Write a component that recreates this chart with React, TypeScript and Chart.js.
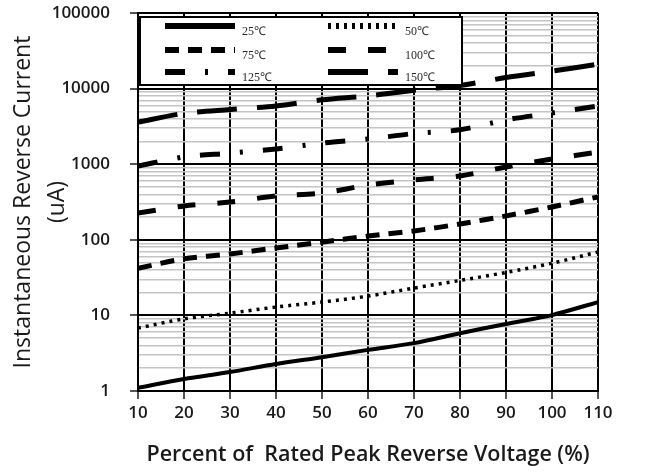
import { useEffect, useRef } from 'react';
import { Chart, registerables } from 'chart.js';
Chart.register(...registerables);

const xValues = [10, 20, 30, 40, 50, 60, 70, 80, 90, 100, 110];
const t25 = [1.1, 1.44, 1.78, 2.28, 2.8, 3.5, 4.3, 5.8, 7.7, 10.1, 15];
const t50 = [6.8, 9, 10.7, 12.9, 15, 18, 23, 29, 37, 49, 69];
const t75 = [42, 56, 65, 78, 93, 112, 131, 162, 207, 272, 370];
const t100 = [226, 280, 316, 380, 415, 530, 620, 700, 920, 1170, 1450];
const t125 = [945, 1250, 1400, 1590, 1900, 2150, 2550, 2850, 3850, 4750, 5900];
const t150 = [3600, 4700, 5300, 5900, 7100, 8000, 9500, 11000, 14000, 17000, 21000];
const seriesLabels = ['25℃', '50℃', '75℃', '100℃', '125℃', '150℃'];
const yTickLabels = [1, 10, 100, 1000, 10000, 100000];

const isMajor = (v: number) => yTickLabels.includes(v);

const styles = [
  { dash: [] as number[], width: 4 },
  { dash: [3, 5], width: 3.5 },
  { dash: [14, 9], width: 5 },
  { dash: [18, 22], width: 5 },
  { dash: [20, 20, 3, 20], width: 5 },
  { dash: [40, 20], width: 5 },
];

const legendPlugin = {
  id: 'boxLegend',
  afterDatasetsDraw(chart: any) {
    const ctx = chart.ctx;
    const left = chart.chartArea.left + 2;
    const top = chart.chartArea.top + 4;
    const w = 322;
    const h = 68;
    ctx.save();
    ctx.fillStyle = '#fff';
    ctx.fillRect(left, top, w, h);
    ctx.strokeStyle = '#000';
    ctx.lineWidth = 2;
    ctx.strokeRect(left, top, w, h);
    const cols = [left + 25, left + 188];
    const rows = [top + 9, top + 33, top + 55];
    const order = [0, 2, 4, 1, 3, 5];
    order.forEach((di, k) => {
      const col = Math.floor(k / 3);
      const row = k % 3;
      const x0 = cols[col];
      const y0 = rows[row];
      const ds = chart.data.datasets[di];
      ctx.beginPath();
      ctx.setLineDash(ds.borderDash || []);
      ctx.lineWidth = 6;
      ctx.lineCap = 'butt';
      ctx.moveTo(x0, y0);
      ctx.lineTo(x0 + 70, y0);
      ctx.stroke();
      ctx.setLineDash([]);
      ctx.fillStyle = '#2a2a2a';
      ctx.font = '12px "Liberation Serif", serif';
      ctx.textBaseline = 'middle';
      ctx.textAlign = 'left';
      ctx.fillText(ds.label, x0 + 77, y0 + 6);
    });
    ctx.restore();
  },
};

export default function App() {
  const ref = useRef<HTMLCanvasElement>(null);
  useEffect(() => {
    const all = [t25, t50, t75, t100, t125, t150];
    const chart = new Chart(ref.current!, {
      type: 'line',
      data: {
        labels: xValues,
        datasets: all.map((arr, i) => ({
          label: seriesLabels[i],
          data: arr.map((v, j) => ({ x: xValues[j], y: v })),
          borderColor: '#000',
          borderWidth: styles[i].width,
          borderDash: styles[i].dash,
          pointRadius: 0,
          tension: 0.3,
          fill: false,
        })),
      },
      options: {
        responsive: false,
        animation: false,
        layout: { padding: { top: 13, right: 53, left: 0, bottom: 0 } },
        plugins: { legend: { display: false }, tooltip: { enabled: false } },
        scales: {
          x: {
            type: 'linear',
            min: 10,
            max: 110,
            afterFit: (s: any) => { s.height = 83; s.paddingLeft = 0; s.paddingRight = 0; },
            ticks: {
              stepSize: 10,
              color: '#1a1a1a',
              font: { family: 'Open Sans', size: 17, weight: '600' },
              padding: 4,
            },
            grid: { color: '#000', lineWidth: 2, tickLength: 8, tickColor: '#555', tickWidth: 2 },
            border: { color: '#000', width: 2 },
            title: {
              display: true,
              text: 'Percent of  Rated Peak Reverse Voltage (%)',
              color: '#1a1a1a',
              font: { family: 'Open Sans', size: 21.5, weight: '600' },
              padding: { top: 0, bottom: 6 },
            },
          },
          y: {
            type: 'logarithmic',
            min: 1,
            max: 100000,
            afterFit: (s: any) => { s.width = 138; s.paddingTop = 0; s.paddingBottom = 0; },
            afterBuildTicks: (s: any) => {
              const t: any[] = [];
              for (let p = 1; p <= 100000; p *= 10) {
                for (let m = 1; m <= 9; m++) {
                  const v = p * m;
                  if (v > 100000) break;
                  t.push({ value: v });
                }
              }
              s.ticks = t;
            },
            ticks: {
              autoSkip: false,
              color: '#1a1a1a',
              font: { family: 'Open Sans', size: 17, weight: '600' },
              padding: 20,
              callback: (v: any) => (isMajor(Number(v)) ? String(v) : ''),
            },
            grid: {
              color: (c: any) => (c.tick && isMajor(c.tick.value) ? '#000' : '#c4c4c4'),
              lineWidth: (c: any) => (c.tick && isMajor(c.tick.value) ? 2 : 1.5),
              tickLength: 8,
              tickColor: (c: any) => (c.tick && isMajor(c.tick.value) ? '#555' : 'rgba(0,0,0,0)'),
              tickWidth: 2,
            },
            border: { color: '#000', width: 2 },
            title: {
              display: true,
              text: ['Instantaneous Reverse Current', '(uA)'],
              color: '#1a1a1a',
              font: { family: 'Open Sans', size: 23, lineHeight: 1.5 },
              padding: { bottom: 0, top: 6 },
            },
          },
        },
      },
      plugins: [legendPlugin],
    } as any);
    return () => chart.destroy();
  }, []);
  return (
    <div style={{ position: 'absolute', left: 0, top: 0, width: 651, height: 474, background: '#fff' }}>
      <canvas ref={ref} width={651} height={474} />
    </div>
  );
}
